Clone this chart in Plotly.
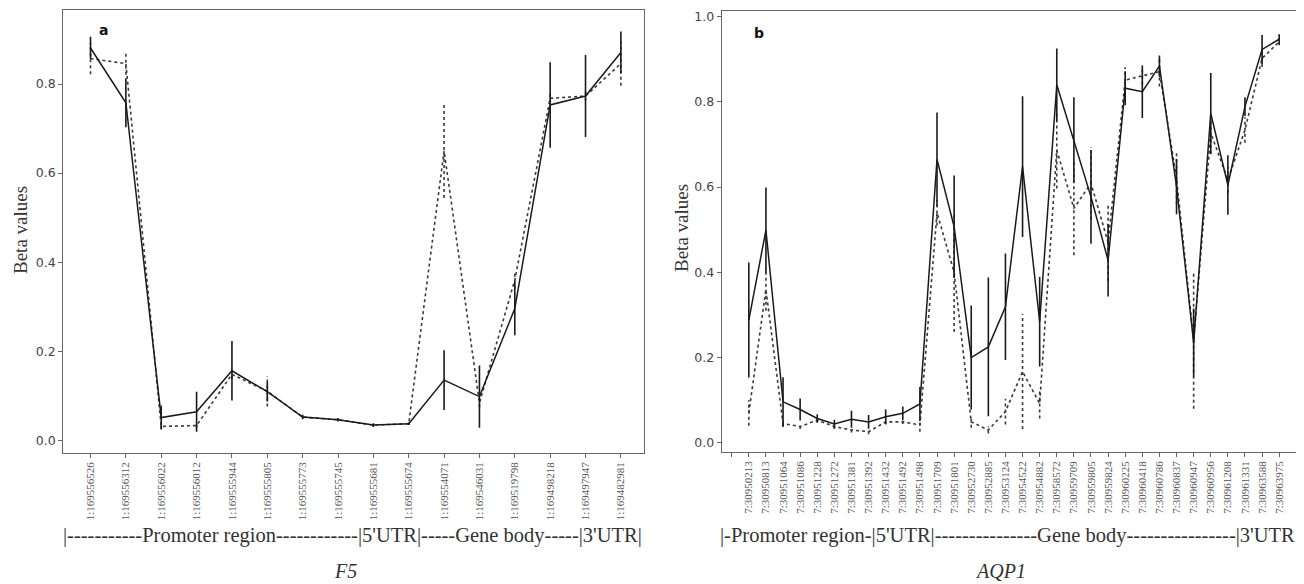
import plotly.graph_objects as go

# ---------------- Panel a: F5 ----------------
f5_labels = ["1:169556526", "1:169556312", "1:169556022", "1:169556012", "1:169555944",
             "1:169555805", "1:169555773", "1:169555745", "1:169555681", "1:169555674",
             "1:169554071", "1:169546031", "1:169519798", "1:169498218", "1:169497947",
             "1:169482981"]
f5_solid = [0.881, 0.758, 0.051, 0.064, 0.156, 0.109, 0.052, 0.046, 0.034, 0.037,
            0.135, 0.098, 0.296, 0.753, 0.773, 0.871]
f5_solid_err = [0.025, 0.055, 0.027, 0.045, 0.067, 0.022, 0.005, 0.004, 0.004, 0.003,
                0.067, 0.070, 0.060, 0.096, 0.092, 0.047]
f5_dot = [0.857, 0.846, 0.031, 0.033, 0.148, 0.110, 0.052, 0.046, 0.034, 0.037,
          0.650, 0.084, 0.360, 0.768, 0.773, 0.846]
f5_dot_err = [0.035, 0.025, 0.005, 0.005, 0.010, 0.034, 0.004, 0.003, 0.003, 0.003,
              0.106, 0.010, 0.020, 0.010, 0.010, 0.050]

# ---------------- Panel b: AQP1 ----------------
aqp1_labels = ["7:30950213", "7:30950813", "7:30951064", "7:30951086", "7:30951228",
               "7:30951272", "7:30951381", "7:30951392", "7:30951432", "7:30951492",
               "7:30951498", "7:30951709", "7:30951801", "7:30952730", "7:30952885",
               "7:30953124", "7:30954522", "7:30954882", "7:30958572", "7:30959709",
               "7:30959805", "7:30959824", "7:30960225", "7:30960418", "7:30960786",
               "7:30960837", "7:30960947", "7:30960956", "7:30961208", "7:30961331",
               "7:30963588", "7:30963975"]
aqp1_solid = [0.288, 0.499, 0.096, 0.078, 0.057, 0.044, 0.055, 0.049, 0.061, 0.069,
              0.091, 0.665, 0.507, 0.200, 0.225, 0.319, 0.648, 0.284, 0.840, 0.711,
              0.577, 0.428, 0.832, 0.824, 0.884, 0.601, 0.235, 0.773, 0.605, 0.789,
              0.923, 0.947]
aqp1_solid_err = [0.135, 0.100, 0.058, 0.026, 0.010, 0.010, 0.020, 0.016, 0.017, 0.016,
                  0.040, 0.110, 0.120, 0.122, 0.163, 0.125, 0.165, 0.105, 0.085, 0.100,
                  0.110, 0.085, 0.040, 0.062, 0.025, 0.065, 0.080, 0.095, 0.070, 0.022,
                  0.034, 0.012]
aqp1_dot = [0.070, 0.360, 0.045, 0.038, 0.053, 0.038, 0.030, 0.026, 0.049, 0.049,
            0.042, 0.540, 0.400, 0.049, 0.030, 0.073, 0.167, 0.092, 0.687, 0.550,
            0.609, 0.470, 0.851, 0.861, 0.871, 0.620, 0.240, 0.727, 0.617, 0.734,
            0.902, 0.941]
aqp1_dot_err = [0.030, 0.050, 0.008, 0.006, 0.005, 0.006, 0.006, 0.006, 0.006, 0.005,
                0.016, 0.030, 0.140, 0.014, 0.008, 0.030, 0.135, 0.035, 0.090, 0.110,
                0.085, 0.090, 0.030, 0.020, 0.035, 0.060, 0.160, 0.050, 0.030, 0.030,
                0.020, 0.008]

# The page body has an 8px margin: the figure is placed 8px in from the corner.
OFF = 8
W, H = 1304 - OFF, 584 - OFF
SOLID = "#1a1a1a"
DOT = "#3a3a3a"


def px(x):   # reference-screen x pixel -> paper fraction
    return (x - OFF) / W


def py(y):   # reference-screen y pixel (from top) -> paper fraction
    return 1 - (y - OFF) / H


def dotted_bars(xs, ys, errs):
    bx, by = [], []
    for x, y, e in zip(xs, ys, errs):
        bx += [x, x, None]
        by += [y - e, y + e, None]
    return bx, by


fig = go.Figure()


def add_panel(labels, solid, solid_err, dot, dot_err, xa, ya):
    xs = list(range(len(labels)))
    bx, by = dotted_bars(xs, dot, dot_err)
    fig.add_trace(go.Scatter(x=bx, y=by, mode="lines", xaxis=xa, yaxis=ya,
                             line=dict(color=DOT, width=1.6, dash="dot"),
                             showlegend=False, hoverinfo="skip"))
    fig.add_trace(go.Scatter(x=xs, y=dot, mode="lines", xaxis=xa, yaxis=ya,
                             line=dict(color=DOT, width=1.6, dash="dot"),
                             showlegend=False))
    fig.add_trace(go.Scatter(x=xs, y=solid, mode="lines", xaxis=xa, yaxis=ya,
                             line=dict(color=SOLID, width=1.5),
                             error_y=dict(type="data", array=solid_err, visible=True,
                                          color=SOLID, thickness=1.6, width=0),
                             showlegend=False))


add_panel(f5_labels, f5_solid, f5_solid_err, f5_dot, f5_dot_err, "x", "y")
add_panel(aqp1_labels, aqp1_solid, aqp1_solid_err, aqp1_dot, aqp1_dot_err, "x2", "y2")

tickfont_x = dict(family="Liberation Serif", size=11, color="#555555")
tickfont_y = dict(family="DejaVu Sans", size=12.5, color="#444444")
axline = dict(showline=True, linecolor="#666666", linewidth=1.2, mirror=True,
              showgrid=False, zeroline=False, ticks="outside", ticklen=4,
              tickcolor="#666666", tickwidth=1, automargin=False)

fig.update_layout(
    width=W, height=H, margin=dict(l=0, r=0, t=0, b=0, autoexpand=False),
    paper_bgcolor="white", plot_bgcolor="white",
    xaxis=dict(domain=[px(63.3), px(643.5)], range=[-0.77, 15.64],
               tickmode="array", tickvals=list(range(len(f5_labels))),
               ticktext=f5_labels, tickangle=-90, tickfont=tickfont_x, **axline),
    yaxis=dict(domain=[py(452.7), py(9.7)], range=[-0.028, 0.967],
               tickmode="array", tickvals=[0, 0.2, 0.4, 0.6, 0.8],
               ticktext=["0.0", "0.2", "0.4", "0.6", "0.8"], tickfont=tickfont_y,
               **axline),
    xaxis2=dict(domain=[px(721.7), 1.0], range=[-1.585, 32.45], anchor="y2",
                tickmode="array", tickvals=list(range(-1, len(aqp1_labels) + 1)),
                ticktext=[""] + aqp1_labels + [""], tickangle=-90,
                tickfont=tickfont_x, **axline),
    yaxis2=dict(domain=[py(451.7), py(10.7)], range=[-0.021, 1.014],
                anchor="x2", tickmode="array", tickvals=[0, 0.2, 0.4, 0.6, 0.8, 1.0],
                ticktext=["0.0", "0.2", "0.4", "0.6", "0.8", "1.0"],
                tickfont=tickfont_y, **axline),
)

serif = "Liberation Serif"
ann = [
    dict(text="<b>a</b>", x=px(103), y=py(30), font=dict(family="DejaVu Sans", size=14, color="#111")),
    dict(text="<b>b</b>", x=px(759), y=py(33), font=dict(family="DejaVu Sans", size=14, color="#111")),
    dict(text="Beta values", x=px(20), y=py(230), textangle=-90,
         font=dict(family=serif, size=19, color="#333")),
    dict(text="Beta values", x=px(681), y=py(228), textangle=-90,
         font=dict(family=serif, size=19, color="#333")),
    dict(text="|-----------Promoter region------------|5'UTR|-----Gene body-----|3'UTR|",
         x=px(352), y=py(535), font=dict(family=serif, size=20.5, color="#333")),
    dict(text="|-Promoter region-|5'UTR|---------------Gene body----------------|3'UTR",
         x=px(718), y=py(535), xanchor="left", font=dict(family=serif, size=20.5, color="#333")),
    dict(text="<i>F5</i>", x=px(345), y=py(571), font=dict(family=serif, size=20, color="#333")),
    dict(text="<i>AQP1</i>", x=px(1000), y=py(571), font=dict(family=serif, size=20, color="#333")),
]
for a in ann:
    a.setdefault("xanchor", "center")
    a.update(xref="paper", yref="paper", yanchor="middle", showarrow=False)
fig.update_layout(annotations=ann)

fig.write_html("out.html")
